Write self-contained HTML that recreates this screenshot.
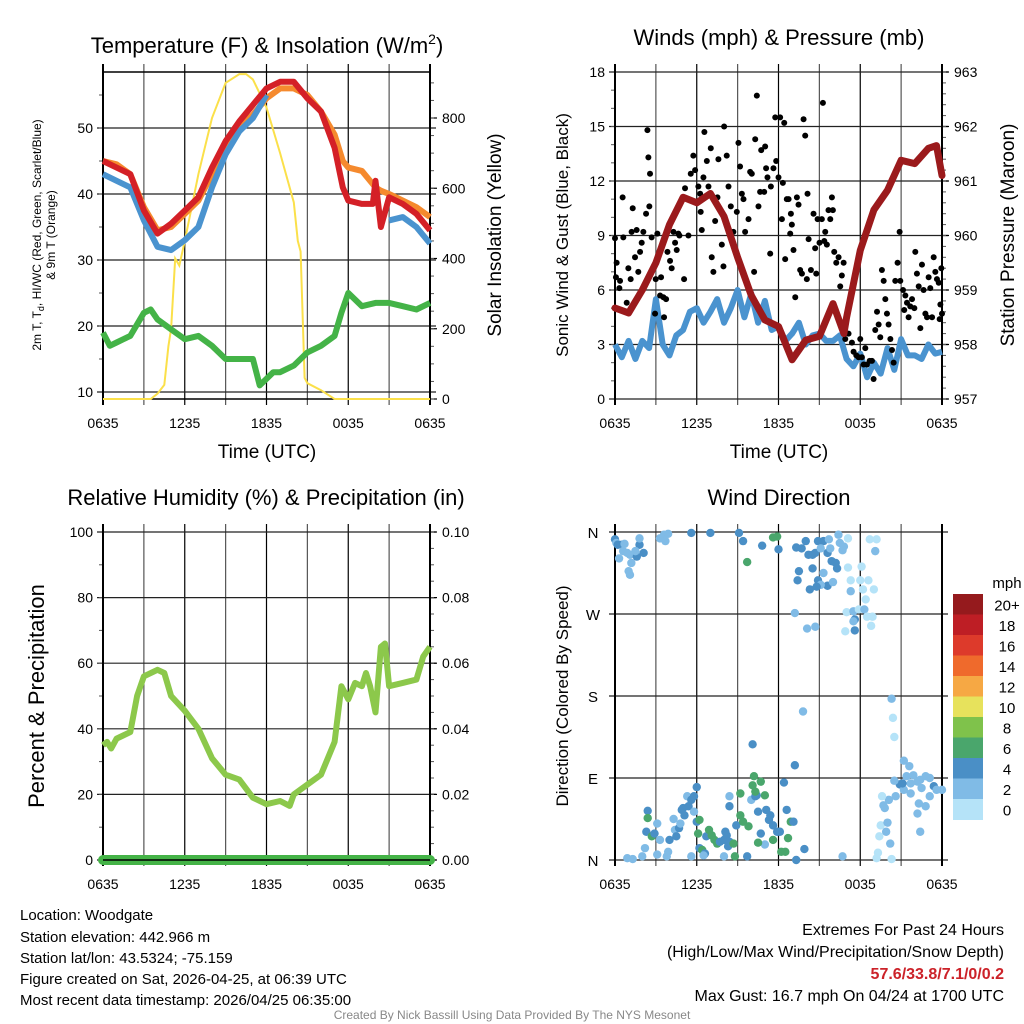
<!DOCTYPE html>
<html><head><meta charset="utf-8"><style>
html,body{margin:0;padding:0;background:#fff;}
svg{display:block;font-family:"Liberation Sans",Arial,sans-serif;}
</style></head><body>
<svg id="root" width="1024" height="1024" viewBox="0 0 1024 1024" xmlns="http://www.w3.org/2000/svg">
<g font-size="22" text-anchor="middle" fill="#000">
<text x="267" y="53">Temperature (F) &amp; Insolation (W/m<tspan font-size="14" dy="-9">2</tspan><tspan dy="9">)</tspan></text>
<text x="779" y="45">Winds (mph) &amp; Pressure (mb)</text>
<text x="266" y="505">Relative Humidity (%) &amp; Precipitation (in)</text>
<text x="779" y="505">Wind Direction</text>
</g>
<g id="p1"></g>
<g id="p2"></g>
<g id="p3"></g>
<g id="p4"></g>
<g fill="#000">
<text x="267" y="458" font-size="19" text-anchor="middle">Time (UTC)</text>
<text x="779" y="458" font-size="19" text-anchor="middle">Time (UTC)</text>
<text transform="translate(41,235) rotate(-90)" font-size="12" text-anchor="middle">2m T, T<tspan font-size="9" dy="3">d</tspan><tspan dy="-3">, HI/WC (Red, Green, Scarlet/Blue)</tspan></text>
<text transform="translate(55,235) rotate(-90)" font-size="12" text-anchor="middle">&amp; 9m T (Orange)</text>
<text transform="translate(501,235) rotate(-90)" font-size="19" text-anchor="middle">Solar Insolation (Yellow)</text>
<text transform="translate(568,235) rotate(-90)" font-size="17" text-anchor="middle">Sonic Wind &amp; Gust (Blue, Black)</text>
<text transform="translate(1014,235) rotate(-90)" font-size="19" text-anchor="middle">Station Pressure (Maroon)</text>
<text transform="translate(44,696) rotate(-90)" font-size="22" text-anchor="middle">Percent &amp; Precipitation</text>
<text transform="translate(568,696) rotate(-90)" font-size="17" text-anchor="middle">Direction (Colored By Speed)</text>
</g>
<g font-size="15" fill="#000">
<text x="20" y="920">Location: Woodgate</text>
<text x="20" y="942">Station elevation: 442.966 m</text>
<text x="20" y="963">Station lat/lon: 43.5324; -75.159</text>
<text x="20" y="984">Figure created on Sat, 2026-04-25, at 06:39 UTC</text>
<text x="20" y="1005">Most recent data timestamp: 2026/04/25 06:35:00</text>
</g>
<g font-size="16" fill="#000" text-anchor="end">
<text x="1004" y="935">Extremes For Past 24 Hours</text>
<text x="1004" y="957">(High/Low/Max Wind/Precipitation/Snow Depth)</text>
<text x="1004" y="979" fill="#cc2229" font-weight="bold">57.6/33.8/7.1/0/0.2</text>
<text x="1004" y="1001">Max Gust: 16.7 mph On 04/24 at 1700 UTC</text>
</g>
<text x="512" y="1019" font-size="12" fill="#888" text-anchor="middle">Created By Nick Bassill Using Data Provided By The NYS Mesonet</text>
</svg>
<script>
// ---------- DATA ----------
const xTickLabels = ["0635","1235","1835","0035","0635"];
// Panel 1 (hours since 0635)
const tempHours = [0,1,2,3,4,5,6,7,8,9,10,11,12,13,14,15,16,17,17.6,18,19,19.8,20,20.4,21,22,23,24];
const tempRed   = [45,44,43,37.5,34,35.5,37.5,39.5,44,48,51,53.5,56,57,57,54.5,52.5,47,41,39,38.5,38.5,42,35,39.5,38.5,37,34.5];
const tempOrange= [45,44.5,43,38,34.5,35,37,39,43,47,50,52,54.5,56,56,55,52.5,49,45,44,43.5,41.5,41,40.5,40,39,38,36.5];
const tempBlue  = [43,42,41,36,32,31.5,33,35,41,46,49.5,51.5,55,null,null,null,null,null,null,null,null,null,null,null,36,36.5,35,32.5];
const dewHours  = [0,0.5,1,1.5,2,3,3.5,4,5,6,7,8,9,10,11,11.5,12,12.5,13,14,15,16,17,17.5,18,19,20,21,22,23,24];
const dewGreen  = [19,17,17.5,18,18.5,22,22.5,21,19.5,18,18.5,17,15,15,15,11,12,13,13,14,16,17,18.5,22,25,23,23.5,23.5,23,22.5,23.5];
const solarHours= [0,3.5,4,4.5,4.8,5,5.3,5.6,6,7,8,9,10,10.5,11,12,13,14,14.3,14.5,14.8,15,16,17,24];
const solarVals = [0,0,15,40,150,200,400,380,450,640,800,900,925,925,910,830,700,560,450,420,60,45,25,0,0];
// Panel 2
const windHours = [0,0.5,1,1.5,2,2.5,3,3.5,4,4.5,5,5.5,6,6.5,7,7.5,8,8.5,9,9.5,10,10.5,11,11.5,12,12.5,13,13.5,14,14.5,15,15.5,16,16.5,17,17.5,18,18.5,19,19.5,20,20.5,21,21.5,22,22.5,23,23.5,24];
const windSpeed = [3,2.3,3.2,2.2,3.2,2.8,5.5,3,2.4,3.5,3.8,4.8,5,4.2,4.8,5.5,4.2,5,6,4.5,5.8,4.2,5.4,3.8,4,3.2,3.6,4.2,3,3.5,3.6,3.2,3.2,3.5,2.2,1.8,2.5,1.2,2,1.4,2.8,1.6,3.3,2.4,2.4,2.2,3,2.5,2.6];
const presHours = [0,1,2,3,4,5,6,7,8,9,10,11,12,13,14,15,16,16.8,17,18,19,20,21,22,23,23.6,24];
const pressure  = [958.67,958.58,959.0,959.5,960.2,960.7,960.6,960.77,960.35,959.6,958.9,958.45,958.33,957.72,958.08,958.15,958.75,958.2,958.5,959.73,960.47,960.83,961.38,961.32,961.6,961.65,961.1];
const gustHours = [0,0.12,0.07,0.37,0.32,0.61,0.56,0.86,0.98,1.15,1.22,1.3,1.47,1.59,1.71,1.84,1.96,2.08,2.28,2.38,2.45,2.57,2.52,2.69,2.94,2.99,3.11,3.31,3.38,3.55,3.6,3.75,3.85,4.04,4.16,4.29,4.41,4.53,4.65,4.73,5.07,5.14,5.39,5.56,5.75,5.88,6.12,6.25,6.29,6.37,6.49,6.56,6.74,6.86,7.03,7.1,7.22,7.35,7.52,7.59,7.84,7.96,8.01,8.2,8.33,8.5,8.69,8.94,9.06,9.18,9.31,9.43,9.55,9.8,9.92,10.04,10.21,10.29,10.41,10.53,10.65,10.73,10.95,11.02,11.09,11.19,11.39,11.44,11.63,11.76,11.83,12,12.12,12.25,12.32,12.42,12.49,12.61,12.74,12.86,12.91,12.98,13.1,13.23,13.35,13.47,13.59,13.72,13.84,13.96,14.08,14.13,14.21,14.38,14.57,14.69,14.77,14.87,15.01,15.18,15.26,15.36,15.43,15.55,15.67,15.8,15.92,15.99,16.09,16.24,16.41,16.53,16.65,16.78,16.9,17.14,17.39,17.51,17.71,17.88,18,18.12,18.25,18.37,18.49,18.69,18.86,18.98,19.1,19.23,19.35,19.47,19.59,19.72,19.84,19.96,20.08,20.21,20.33,20.45,20.57,20.74,20.89,20.94,21.14,21.23,21.31,21.43,21.55,21.67,21.8,21.97,22.04,22.16,22.29,22.41,22.53,22.65,22.78,22.9,23.02,23.14,23.27,23.39,23.51,23.63,23.76,23.83,23.88,23.95,24];
const gustVals  = [8.85,7.5,6.7,6.5,6.1,8.9,11.1,5.3,7.2,6.6,9.2,10.5,7.8,9.3,7.0,8.1,8.6,9.2,10.2,14.8,13.3,12.4,10.6,8.9,4.7,6.6,9.1,5.7,6.7,5.6,4.5,5.5,8.1,7.6,7.2,9.2,8.6,8.2,9.1,9,6.6,11.6,9,12.4,13.4,12.6,11.7,11.3,10.3,9.3,12.2,14.7,13.1,11.7,13.8,7.8,7.0,9.8,11.1,13.2,8.5,7.3,15,13.4,11.7,10.6,9.2,10.3,14.1,12.8,11.3,11,9.2,9.9,12.5,12.4,7,14.3,16.7,10.6,11.4,13.7,11.4,13.9,12.7,12.2,8,11.7,12.7,15.5,13.1,12.2,15.5,9.9,11.9,15.2,7.7,11,11,9.1,10.2,9.6,8.2,5.6,11.1,10.7,7.1,6.9,15.4,14.5,6.6,11.3,8.8,7.1,10.2,8.3,6.9,9.9,8.6,9.9,16.3,8.7,9.2,8.5,10.4,9.9,11.1,10.4,8.1,7.5,7.8,6.2,6.8,7.5,3.3,3.6,3.1,2.6,2.4,2.3,3.3,2.3,1.9,2.8,1.9,2.1,2.1,1.1,3.8,4.8,4.1,3.4,7.1,6.5,5.5,4.7,4.1,3.3,2.7,2,6.5,7.5,9.2,6.5,6,4.9,5.7,5.3,4.5,5.1,5.5,5,8.1,6.9,6.2,3.9,7.4,6,4.7,4.5,6.7,6.1,4.5,7.8,7,6.6,6.4,4.4,5.2,7.2,4.7];
// Panel 3
const rhHours = [0,0.3,0.6,1,1.5,2,2.5,3,4,4.5,5,6,7,8,9,10,11,12,13,13.7,14,15,16,17,17.5,18,18.5,19,19.3,19.6,20,20.4,20.7,21,22,23,23.5,24];
const rhVals  = [35,36,34,37,38,39,50,56,58,57,50,45.5,40,31,26,24.5,19,17,18,16.5,20,23,26,36,53,49,54,53,57,53,45,65,66,53,54,55,62,65];
const precipHours = [0,24];
const precipVals  = [0,0];
// Panel 4
const dirHours = [0,0.1,0.2,0.5,0.7,0.3,0.6,0.9,1.1,1.2,1.0,1.1,1.6,1.8,1.8,2.1,1.5,3.3,3.6,3.7,3.9,5.6,7.0,9.1,9.4,9.7,10.8,11.6,11.9,12.0,13.3,13.7,14.0,14.2,14.5,14.7,14.9,15.3,15.1,15.7,15.6,15.8,15.9,16.2,16.3,16.5,16.4,16.8,16.7,17.1,13.5,14.5,13.4,14.9,15.6,15.3,15.1,16.0,14.3,14.8,13.2,14.1,14.7,17.1,18.1,17.3,18.0,18.6,19.0,17.3,18.2,18.4,17.0,17.5,17.9,18.3,17.6,17.5,18.5,18.9,16.9,17.6,18.8,18.7,19.2,19.1,20.3,20.4,20.5,13.8,10.1,13.2,21.2,21.6,21.4,21.9,22.4,20.9,21.2,21.7,22.2,22.8,23.1,23.4,23.6,24.0,20.5,20.6,20.1,19.6,19.7,19.8,21.1,21.7,22.5,23.1,22.3,22.8,22.2,22.4,19.5,20.0,19.9,19.4,20.2,19.3,19.2,20.3,16.7,0.9,1.3,2.0,2.2,2.3,2.4,2.4,2.7,2.9,3.1,3.3,3.1,3.8,3.9,4.0,4.3,4.4,4.5,4.7,4.8,4.9,5.0,5.1,5.3,5.4,5.6,5.8,5.8,6.0,6.0,6.2,6.1,6.2,6.4,6.6,6.7,6.9,7.1,7.3,7.5,7.7,8.0,8.1,8.2,8.3,8.4,8.7,8.8,8.9,9.2,9.4,9.8,9.7,8.4,8.4,9.2,10.0,10.1,10.3,10.7,10.4,10.5,11.0,11.1,11.4,11.3,11.6,11.9,12.1,12.2,12.5,12.4,12.6,12.7,12.9,13.1,13.3,13.9,11.6,11.0,10.7,10.5,10.2,10.3,6.5,5.6,8.0];
const dirDeg   = [352,348,346,346,347,331,339,337,335,326,317,313,333,346,353,337,339,353,357,350,358,359,359,359,350,327,345,354,355,341,343,342,350,335,335,337,350,350,342,352,337,342,328,326,320,348,357,344,340,353,317,320,307,307,301,315,302,305,297,300,271,254,256,321,322,307,307,307,297,295,297,286,272,273,275,275,264,262,267,267,251,252,257,352,352,339,177,156,135,163,127,104,109,103,92,93,88,83,77,84,86,92,90,81,77,77,87,70,66,70,60,57,84,73,79,70,62,59,51,31,38,41,31,26,18,8,2,1,4,2,1,4,13,31,54,46,26,29,40,22,6,4,9,22,45,33,26,35,40,55,57,49,70,59,66,53,70,80,42,44,29,13,11,7,26,33,27,22,18,20,22,31,27,15,20,18,4,38,49,42,37,4,70,59,73,66,82,70,86,71,53,71,55,49,44,38,31,31,9,9,85,55,24,42,42,0,12,22,17,29,19,92,75,5,4,4];
const dirSpeed = [5,3,5,5,3,3,3,3,3,3,3,3,5,5,3,5,3,3,3,3,3,5,5,5,5,7,5,7,7,5,5,5,5,5,5,5,5,5,3,3,5,3,5,5,5,3,3,3,3,1,5,5,5,5,5,3,3,3,5,5,3,3,3,1,1,1,1,1,1,3,1,1,1,3,1,3,5,3,1,1,1,5,1,1,1,3,3,1,1,3,5,5,3,3,3,3,3,5,3,3,3,3,3,5,3,3,3,3,3,1,3,3,5,3,3,3,3,3,3,3,1,3,3,1,3,1,1,1,3,3,3,3,3,5,5,7,7,5,3,3,3,3,3,5,3,3,5,5,3,5,5,5,3,5,5,3,5,5,5,7,7,5,7,5,5,7,7,7,7,5,5,5,5,5,5,7,7,5,7,7,7,5,3,5,7,3,7,5,7,5,5,7,5,5,5,5,5,5,7,7,5,5,7,7,5,5,5,7,3,5,7,7,7,3,3,3,7,5,7];
const speedLevels = ["0","2","4","6","8","10","12","14","16","18","20+"];
const speedColors = ["#b5e3f8","#80bbe6","#4a8fc6","#4aa66c","#7fc24b","#e7e25c","#f6a844","#ef6a2c","#dd3a2b","#be1e25","#951a1d"];

// ---------- HELPERS ----------
const NS="http://www.w3.org/2000/svg";
function mk(parent,tag,attrs){const e=document.createElementNS(NS,tag);for(const k in attrs)e.setAttribute(k,attrs[k]);parent.appendChild(e);return e;}
function linScale(d0,d1,r0,r1){return v=>r0+(v-d0)*(r1-r0)/(d1-d0);}

function axesFrame(g,L,R,T,B,xs,yTicks,yfmt,yMinor,ys,rTicks,rfmt,rMinor,rs){
  for(let h=0;h<=24;h+=3){
    const x=xs(h);
    const gl=mk(g,'line',{x1:x,x2:x,y1:T-8,y2:B+6,stroke:(h%6==0?'#000':'#555'),'stroke-width':1.2});
    
    
  }
  for(const v of yTicks){
    const y=ys(v);
    const hl=mk(g,'line',{x1:L-6,x2:R+6,y1:y,y2:y,stroke:'#222','stroke-width':1.2});
    
    
    if(yfmt){
      const t=mk(g,'text',{x:L-10,y:y+5,'font-size':14,'text-anchor':'end'});t.textContent=yfmt(v);
      
      
    }
  }
  for(const v of yMinor){const y=ys(v);mk(g,'line',{x1:L-4,x2:L,y1:y,y2:y,stroke:'#555','stroke-width':1});}
  if(rTicks){
    for(const v of rTicks){
      const y=rs(v);
      mk(g,'line',{x1:R,x2:R+7,y1:y,y2:y,stroke:'#000','stroke-width':1.2});
      const t=mk(g,'text',{x:R+12,y:y+5,'font-size':14,'text-anchor':'start'});t.textContent=rfmt(v);
      
      
    }
    for(const v of rMinor){const y=rs(v);mk(g,'line',{x1:R,x2:R+4,y1:y,y2:y,stroke:'#555','stroke-width':1});}
  }
  mk(g,'line',{x1:L,x2:L,y1:T-8,y2:B+6,stroke:'#000','stroke-width':2});
  mk(g,'line',{x1:R,x2:R,y1:T-8,y2:B+6,stroke:'#000','stroke-width':2});
  xTickLabels.forEach((s,i)=>{
    const t=mk(g,'text',{x:xs(i*6),y:B+29,'font-size':14,'text-anchor':'middle'});t.textContent=s;
    
    
  });
}
function pathD(xsArr,ysArr,xs,ys){
  let d='',pen=false;
  for(let i=0;i<xsArr.length;i++){
    if(ysArr[i]===null){pen=false;continue;}
    d+=(pen?'L':'M')+xs(xsArr[i]).toFixed(1)+','+ys(ysArr[i]).toFixed(1);pen=true;
  }
  return d;
}
function range(a,b,s){const r=[];for(let v=a;v<=b+1e-9;v+=s)r.push(+v.toFixed(4));return r;}

// ---------- PANEL 1 ----------
(function(){
  const g=document.getElementById('p1');
  const L=103,R=430,T=72,B=399;
  const xs=linScale(0,24,L,R), ys=linScale(10,50,392,128), rs=linScale(0,800,399,118);
  axesFrame(g,L,R,T,B,xs,[10,20,30,40,50],v=>v,range(15,55,5),ys,[0,200,400,600,800],v=>v,range(0,900,50),rs);
  mk(g,'line',{x1:L,x2:R,y1:T,y2:T,stroke:'#000','stroke-width':1.5});
  mk(g,'line',{x1:L,x2:R,y1:B,y2:B,stroke:'#000','stroke-width':1.5});
  const s=mk(g,'path',{d:pathD(solarHours,solarVals,xs,rs),fill:'none',stroke:'#fbe04a','stroke-width':2});
  
  
  const dg=mk(g,'path',{d:pathD(dewHours,dewGreen,xs,ys),fill:'none',stroke:'#44b347','stroke-width':6,'stroke-linejoin':'round'});
  
  
  const o=mk(g,'path',{d:pathD(tempHours,tempOrange,xs,ys),fill:'none',stroke:'#f58a2e','stroke-width':6,'stroke-linejoin':'round'});
  
  
  const b=mk(g,'path',{d:pathD(tempHours,tempBlue,xs,ys),fill:'none',stroke:'#4a93cf','stroke-width':6,'stroke-linejoin':'round'});
  
  
  const r=mk(g,'path',{d:pathD(tempHours,tempRed,xs,ys),fill:'none',stroke:'#d42027','stroke-width':6,'stroke-linejoin':'round'});
  
  
})();

// ---------- PANEL 2 ----------
(function(){
  const g=document.getElementById('p2');
  const L=615,R=942,T=72,B=399;
  const xs=linScale(0,24,L,R), ys=linScale(0,18,399,72), rs=linScale(957,963,399,72);
  axesFrame(g,L,R,T,B,xs,[0,3,6,9,12,15,18],v=>v,range(1,17,1),ys,[957,958,959,960,961,962,963],v=>v,range(957,963,0.2),rs);
  const w=mk(g,'path',{d:pathD(windHours,windSpeed,xs,ys),fill:'none',stroke:'#4a93cf','stroke-width':6,'stroke-linejoin':'round'});
  
  
  for(let i=0;i<gustHours.length;i++){
    const c=mk(g,'circle',{cx:xs(gustHours[i]),cy:ys(gustVals[i]),r:3,fill:'#000'});
    
    
  }
  const p=mk(g,'path',{d:pathD(presHours,pressure,xs,rs),fill:'none',stroke:'#9b1a1c','stroke-width':7,'stroke-linejoin':'round','stroke-linecap':'round'});
  
  
})();

// ---------- PANEL 3 ----------
(function(){
  const g=document.getElementById('p3');
  const L=103,R=430,T=532,B=860;
  const xs=linScale(0,24,L,R), ys=linScale(0,100,860,532), rs=linScale(0,0.1,860,532);
  axesFrame(g,L,R,T,B,xs,[0,20,40,60,80,100],v=>v,range(10,90,10),ys,[0,0.02,0.04,0.06,0.08,0.1],v=>v.toFixed(2),range(0,0.1,0.005),rs);
  const rh=mk(g,'path',{d:pathD(rhHours,rhVals,xs,ys),fill:'none',stroke:'#8cc84b','stroke-width':6,'stroke-linejoin':'round'});
  
  
  const pr=mk(g,'path',{d:pathD(precipHours,precipVals,xs,rs),fill:'none',stroke:'#44b347','stroke-width':10,'stroke-linecap':'round'});
  
  
  mk(g,'line',{x1:L,x2:R,y1:B,y2:B,stroke:'#000','stroke-width':1.5});
})();

// ---------- PANEL 4 ----------
(function(){
  const g=document.getElementById('p4');
  const L=615,R=942,T=532,B=860;
  const xs=linScale(0,24,L,R), ys=linScale(0,360,860,532);
  axesFrame(g,L,R,T,B,xs,[0,90,180,270,360],null,[],ys,null);
  const names=["N","E","S","W","N"];
  [0,90,180,270,360].forEach((v,i)=>{
    const t=mk(g,'text',{x:593,y:ys(v)+6,'font-size':15,'text-anchor':'middle'});t.textContent=names[i];
    
    
  });
  for(let i=0;i<dirHours.length;i++){
    const lvl=Math.min(10,Math.floor(dirSpeed[i]/2));
    const c=mk(g,'circle',{cx:xs(dirHours[i]),cy:ys(dirDeg[i]),r:4.2,fill:speedColors[lvl]});
    
    
  }
  const cb=mk(g,'g',{});
  
  
  const top=594,h=20.5;
  const lab=mk(cb,'text',{x:1007,y:588,'font-size':15,'text-anchor':'middle'});lab.textContent='mph';
  
  
  for(let i=0;i<speedLevels.length;i++){
    const k=speedLevels.length-1-i;
    const r=mk(cb,'rect',{x:953,y:top+i*h,width:30,height:h+0.5,fill:speedColors[k]});
    
    
    const t=mk(cb,'text',{x:1007,y:top+i*h+h/2+6,'font-size':15,'text-anchor':'middle'});t.textContent=speedLevels[k];
    
    
  }
})();
</script>
</body></html>
